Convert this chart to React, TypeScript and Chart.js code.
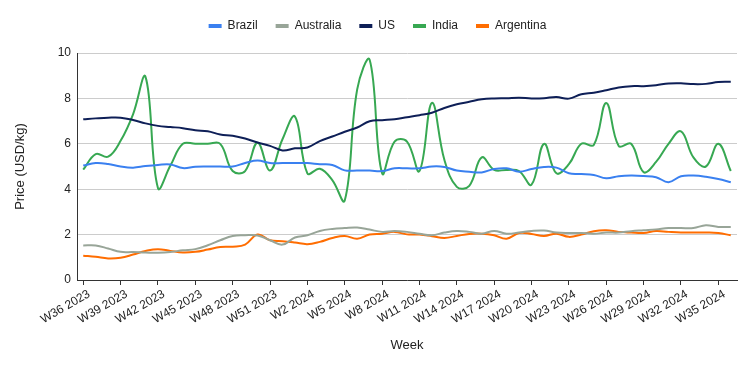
import React, { useEffect, useRef } from 'react';
import { Chart, registerables } from 'chart.js';

Chart.register(...registerables);

const weeks = [
  'W36 2023', 'W37 2023', 'W38 2023', 'W39 2023', 'W40 2023', 'W41 2023', 'W42 2023', 'W43 2023', 'W44 2023',
  'W45 2023', 'W46 2023', 'W47 2023', 'W48 2023', 'W49 2023', 'W50 2023', 'W51 2023', 'W52 2023',
  'W1 2024', 'W2 2024', 'W3 2024', 'W4 2024', 'W5 2024', 'W6 2024', 'W7 2024', 'W8 2024', 'W9 2024',
  'W10 2024', 'W11 2024', 'W12 2024', 'W13 2024', 'W14 2024', 'W15 2024', 'W16 2024', 'W17 2024',
  'W18 2024', 'W19 2024', 'W20 2024', 'W21 2024', 'W22 2024', 'W23 2024', 'W24 2024', 'W25 2024',
  'W26 2024', 'W27 2024', 'W28 2024', 'W29 2024', 'W30 2024', 'W31 2024', 'W32 2024', 'W33 2024',
  'W34 2024', 'W35 2024', 'W36 2024',
];

const brazil = [5.04, 5.15, 5.11, 5.0, 4.95, 5.02, 5.07, 5.09, 4.93, 4.99, 5.0, 5.0, 5.0, 5.15, 5.26, 5.15, 5.15, 5.15, 5.15, 5.1, 5.07, 4.83, 4.82, 4.82, 4.8, 4.92, 4.92, 4.92, 5.0, 4.98, 4.82, 4.77, 4.74, 4.89, 4.92, 4.77, 4.89, 4.98, 4.95, 4.7, 4.67, 4.63, 4.48, 4.57, 4.6, 4.58, 4.53, 4.31, 4.57, 4.6, 4.55, 4.45, 4.31];
const australia = [1.52, 1.52, 1.39, 1.24, 1.23, 1.21, 1.2, 1.23, 1.31, 1.36, 1.53, 1.75, 1.94, 1.97, 1.96, 1.75, 1.56, 1.87, 1.97, 2.16, 2.25, 2.29, 2.31, 2.22, 2.12, 2.16, 2.12, 2.04, 1.97, 2.09, 2.16, 2.12, 2.04, 2.16, 2.04, 2.09, 2.16, 2.18, 2.09, 2.07, 2.07, 2.04, 2.09, 2.09, 2.15, 2.19, 2.23, 2.29, 2.29, 2.29, 2.41, 2.34, 2.34];
const us = [7.08, 7.12, 7.15, 7.15, 7.05, 6.9, 6.79, 6.74, 6.69, 6.6, 6.55, 6.41, 6.35, 6.23, 6.06, 5.91, 5.71, 5.8, 5.84, 6.12, 6.32, 6.53, 6.72, 6.99, 7.04, 7.08, 7.17, 7.26, 7.37, 7.58, 7.74, 7.85, 7.96, 8.0, 8.01, 8.03, 8.0, 8.01, 8.06, 7.99, 8.18, 8.25, 8.36, 8.48, 8.54, 8.54, 8.58, 8.66, 8.67, 8.63, 8.64, 8.72, 8.73];
const india = [4.86, 5.55, 5.43, 6.13, 7.3, 8.95, 4.05, 5.04, 6.0, 6.0, 6.0, 6.0, 4.8, 4.8, 6.05, 4.82, 6.2, 7.2, 4.7, 4.9, 4.4, 3.5, 8.4, 9.7, 4.7, 6.1, 6.1, 4.8, 7.8, 5.3, 4.1, 4.15, 5.4, 4.85, 4.85, 4.8, 4.2, 6.0, 4.7, 5.1, 6.0, 5.95, 7.8, 5.9, 6.0, 4.75, 5.2, 6.0, 6.55, 5.4, 5.0, 6.0, 4.8];
const argentina = [1.07, 1.02, 0.95, 0.98, 1.12, 1.28, 1.36, 1.28, 1.21, 1.24, 1.34, 1.45, 1.47, 1.56, 2.0, 1.75, 1.71, 1.65, 1.58, 1.68, 1.85, 1.94, 1.82, 2.0, 2.04, 2.12, 2.01, 2.0, 1.93, 1.85, 1.94, 2.03, 2.04, 1.97, 1.82, 2.07, 2.03, 1.94, 2.04, 1.9, 2.0, 2.15, 2.19, 2.12, 2.09, 2.07, 2.16, 2.12, 2.09, 2.09, 2.09, 2.07, 1.97];

const seriesNames = ['Brazil', 'Australia', 'US', 'India', 'Argentina'];
const seriesColors = ['#3a80f0', '#98a598', '#0e1f57', '#37a852', '#ff6d01'];
const seriesValues = [brazil, australia, us, india, argentina];

const yTicks = [0, 2, 4, 6, 8, 10];

const legendGap = {
  id: 'legendGap',
  beforeInit(chart: any) {
    const legend = chart.legend;
    if (!legend) return;
    const origFit = legend.fit;
    legend.fit = function () {
      origFit.call(this);
      this.height += 11;
    };
  },
  afterLayout(chart: any) {
    const legend = chart.legend;
    if (!legend) return;
    legend.left += 9;
    legend.right += 9;
  },
};

export default function App() {
  const ref = useRef<HTMLCanvasElement | null>(null);

  useEffect(() => {
    if (!ref.current) return;
    Chart.defaults.font.family = '"Liberation Sans", Arial, sans-serif';
    const chart = new Chart(ref.current, {
      type: 'line',
      data: {
        labels: weeks,
        datasets: seriesNames.map((name, k) => ({
          label: name,
          data: seriesValues[k],
          borderColor: seriesColors[k],
          backgroundColor: seriesColors[k],
          borderWidth: 2,
          pointRadius: 0,
          pointHoverRadius: 0,
          tension: 0.4,
          fill: false,
        })),
      },
      plugins: [legendGap],
      options: {
        responsive: false,
        animation: false,
        layout: { padding: { top: 2, right: 18, left: 0, bottom: 0 } },
        plugins: {
          tooltip: { enabled: false },
          legend: {
            position: 'top',
            labels: {
              boxWidth: 13,
              boxHeight: 4,
              padding: 18,
              color: '#222',
              font: { size: 12 },
              generateLabels: (c: any) =>
                (Chart.defaults.plugins.legend.labels as any).generateLabels(c).map((l: any) => ({ ...l, lineWidth: 0 })),
            },
          },
        },
        scales: {
          x: {
            type: 'category',
            offset: true,
            grid: {
              display: true,
              drawOnChartArea: false,
              drawTicks: true,
              tickLength: 5,
              offset: false,
              color: (ctx: any) => (ctx.index % 3 === 0 ? '#333' : 'rgba(0,0,0,0)'),
            },
            border: { display: true, color: '#333', width: 1 },
            ticks: {
              autoSkip: false,
              minRotation: 30,
              maxRotation: 30,
              padding: 2,
              labelOffset: 6,
              color: '#222',
              font: { size: 12 },
              callback: (_v: any, i: number) => (i % 3 === 0 ? weeks[i] : ''),
            },
            title: {
              display: true,
              text: 'Week',
              color: '#222',
              font: { size: 13 },
              padding: { top: 4, bottom: 18 },
            },
            afterFit: (s: any) => {
              s.height = 91;
            },
          },
          y: {
            min: yTicks[0],
            max: yTicks[yTicks.length - 1],
            afterBuildTicks: (s: any) => {
              s.ticks = yTicks.map((v) => ({ value: v }));
            },
            ticks: { padding: 6, color: '#222', font: { size: 12 } },
            grid: { color: '#cccccc', drawTicks: false },
            border: { display: true, color: '#333' },
            title: {
              display: true,
              text: 'Price (USD/kg)',
              color: '#222',
              font: { size: 13 },
              padding: { top: 13, bottom: 0 },
            },
            afterFit: (s: any) => {
              s.width = 77;
            },
          },
        },
      } as any,
    });
    return () => chart.destroy();
  }, []);

  return (
    <div style={{ position: 'fixed', left: 0, top: 0, width: 755, height: 371, background: '#fff' }}>
      <canvas ref={ref} width={755} height={371} style={{ display: 'block' }} />
    </div>
  );
}
